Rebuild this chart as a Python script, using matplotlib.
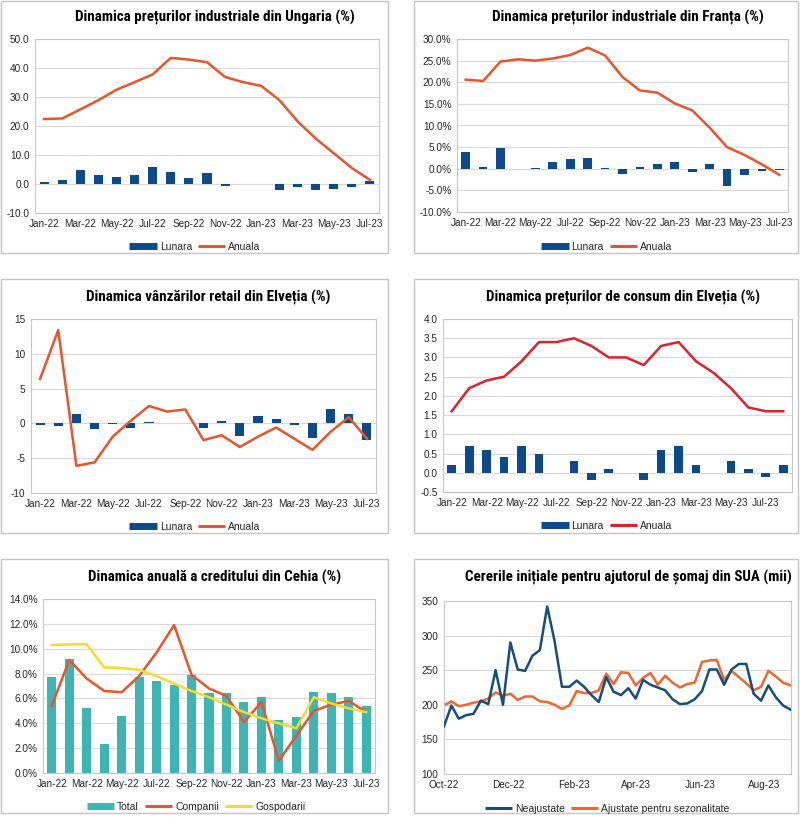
import matplotlib
matplotlib.use("Agg")
import matplotlib.pyplot as plt
from matplotlib.lines import Line2D
from matplotlib.patches import Rectangle
import matplotlib.dates as mdates
import numpy as np
import pandas as pd

plt.rcParams['font.family'] = ['Liberation Sans', 'DejaVu Sans']

# ---------------- data ----------------
months19 = ['Jan-22', 'Feb-22', 'Mar-22', 'Apr-22', 'May-22', 'Jun-22', 'Jul-22', 'Aug-22',
            'Sep-22', 'Oct-22', 'Nov-22', 'Dec-22', 'Jan-23', 'Feb-23', 'Mar-23', 'Apr-23',
            'May-23', 'Jun-23', 'Jul-23']
months20 = months19 + ['Aug-23']

hu_lunara = [0.7, 1.3, 4.8, 3.1, 2.5, 3.1, 5.7, 4.1, 1.9, 3.7, -0.6, 0.0, 0.0, -2.1, -1.1, -2.1, -1.6, -1.1, 1.0]
hu_anuala = [22.4, 22.6, 25.7, 28.9, 32.5, 35.1, 37.8, 43.5, 42.9, 42.0, 36.9, 35.1, 33.8, 28.9, 21.6, 15.7, 10.6, 5.5, 1.4]

fr_lunara = [3.8, 0.5, 4.9, 0.0, 0.1, 1.6, 2.2, 2.5, 0.2, -1.2, 0.5, 1.0, 1.6, -0.7, 1.1, -4.0, -1.4, -0.6, -0.3]
fr_anuala = [20.6, 20.3, 24.8, 25.3, 25.0, 25.5, 26.3, 28.0, 26.2, 21.2, 18.1, 17.6, 15.1, 13.5, 9.5, 5.0, 3.2, 1.0, -1.4]

chr_lunara = [-0.3, -0.4, 1.3, -0.8, -0.1, -0.6, 0.2, 0.0, 0.1, -0.7, 0.3, -1.8, 1.0, 0.6, -0.3, -2.1, 2.1, 1.4, -2.4]
chr_anuala = [6.4, 13.4, -6.1, -5.6, -1.9, 0.4, 2.5, 1.7, 2.0, -2.4, -1.7, -3.4, -1.9, -0.6, -2.2, -3.8, -1.2, 0.9, -2.2]

chc_lunara = [0.2, 0.7, 0.6, 0.4, 0.7, 0.5, 0.0, 0.3, -0.2, 0.1, 0.0, -0.2, 0.6, 0.7, 0.2, 0.0, 0.3, 0.1, -0.1, 0.2]
chc_anuala = [1.6, 2.2, 2.4, 2.5, 2.9, 3.4, 3.4, 3.5, 3.3, 3.0, 3.0, 2.8, 3.3, 3.4, 2.9, 2.6, 2.2, 1.7, 1.6, 1.6]

cz_total = [7.7, 9.2, 5.2, 2.3, 4.6, 7.7, 7.4, 7.1, 7.9, 6.4, 6.4, 5.7, 6.1, 4.3, 4.5, 6.5, 6.4, 6.1, 5.4]
cz_companii = [5.4, 9.1, 7.6, 6.6, 6.5, 7.8, 9.7, 11.9, 7.9, 6.8, 6.2, 4.1, 5.7, 1.0, 3.0, 5.0, 5.5, 5.8, 4.9]
cz_gospodarii = [10.3, 10.35, 10.35, 8.5, 8.45, 8.3, 7.8, 7.2, 6.6, 6.1, 5.5, 4.9, 4.4, 4.0, 3.6, 6.1, 5.6, 5.2, 4.9]

us_start = '2022-10-01'
us_neajustate = [169, 199, 180, 185, 187, 206, 201, 250, 200, 290, 251, 249, 271, 279, 342, 292,
                 226, 226, 235, 226, 214, 204, 240, 219, 214, 224, 209, 236, 229, 225, 221, 208,
                 201, 202, 208, 220, 251, 251, 229, 251, 259, 259, 216, 206, 228, 211, 199, 193]
us_ajustate = [199, 205, 198, 200, 203, 205, 209, 218, 213, 216, 207, 212, 212, 205, 204, 200,
               194, 199, 220, 217, 217, 221, 245, 230, 247, 246, 228, 239, 246, 229, 242, 232,
               225, 230, 232, 262, 264, 265, 236, 249, 240, 231, 221, 226, 249, 241, 232, 228]

# ---------------- colours ----------------
BLUE = '#0D4A8A'
ORANGE = '#E8542B'
RED = '#E0202A'
TEAL = '#3DB5B5'
YELLOW = '#F2DC2E'
NAVY = '#154D7E'
ORANGE2 = '#EE6630'
GRID = '#d9d9d9'
SPINE = '#c6c6c6'
TXT = '#262626'

W, H = 800, 817
fig = plt.figure(figsize=(W / 100, H / 100), dpi=100)
fig.patch.set_facecolor('white')
renderer = fig.canvas.get_renderer()

TITLE_FAMILY = ['Roboto Condensed', 'Open Sans Condensed', 'Liberation Sans Narrow',
                'DejaVu Sans Condensed', 'DejaVu Sans']


def px_axes(l, t, r, b):
    return fig.add_axes([l / W, 1 - b / H, (r - l) / W, (b - t) / H])


def panel_box(l, t, r, b):
    fig.patches.append(Rectangle((l / W, 1 - b / H), (r - l) / W, (b - t) / H,
                                 transform=fig.transFigure, fill=False,
                                 edgecolor='#c4c4c4', lw=1.0, zorder=0))


def title(x, y, s, target_w):
    t = fig.text(x / W, 1 - y / H, s, ha='center', va='center', fontsize=12.5,
                 fontweight='bold', family=TITLE_FAMILY, fontstretch='condensed',
                 color='black')
    w = t.get_window_extent(renderer=renderer).width
    if w > target_w:
        t.set_fontsize(12.5 * target_w / w)
    return t


def style(ax, yticks, fmt):
    ax.set_facecolor('white')
    for sp in ax.spines.values():
        sp.set_color(SPINE)
        sp.set_linewidth(0.8)
    ax.set_yticks(yticks)
    ax.set_ylim(yticks[0], yticks[-1])
    ax.set_yticklabels([fmt.format(v) for v in yticks])
    ax.yaxis.grid(True, color=GRID, lw=0.8)
    ax.set_axisbelow(True)
    ax.tick_params(axis='both', length=0, labelsize=7.2, colors=TXT, pad=4)


def cat_axis(ax, labels):
    n = len(labels)
    ax.set_xlim(-0.5, n - 0.5)
    idx = list(range(0, n, 2))
    ax.set_xticks(idx)
    ax.set_xticklabels([labels[i] for i in idx])


def legend(x, y, handles, labels):
    fig.legend(handles, labels, loc='center', bbox_to_anchor=(x / W, 1 - y / H),
               ncol=len(handles), frameon=False, fontsize=7.5, handlelength=2.6,
               handletextpad=0.3, columnspacing=0.6, labelcolor=TXT)


def bar_handle(c):
    return Line2D([0], [0], color=c, lw=5, solid_capstyle='butt')


def line_handle(c):
    return Line2D([0], [0], color=c, lw=2.2, solid_capstyle='butt')


# panel boxes
boxes = [(1, 1, 388, 253), (414, 1, 798, 253), (1, 279, 388, 533),
         (414, 279, 798, 533), (1, 559, 388, 813), (414, 559, 798, 813)]
for bx in boxes:
    panel_box(*bx)

# ---------- Panel 1: Ungaria ----------
ax = px_axes(35, 39, 379, 213)
x = np.arange(len(months19))
ax.bar(x, hu_lunara, width=0.5, color=BLUE, zorder=2)
ax.plot(x, hu_anuala, color=ORANGE, lw=1.8, zorder=3)
style(ax, [-10, 0, 10, 20, 30, 40, 50], '{:.1f}')
cat_axis(ax, months19)
title(215, 17, 'Dinamica prețurilor industriale din Ungaria (%)', 280)
legend(195, 247, [bar_handle(BLUE), line_handle(ORANGE)], ['Lunara', 'Anuala'])

# ---------- Panel 2: Franta ----------
ax = px_axes(457, 39, 788, 212)
ax.bar(x, fr_lunara, width=0.5, color=BLUE, zorder=2)
ax.plot(x, fr_anuala, color=ORANGE, lw=1.8, zorder=3)
style(ax, [-10, -5, 0, 5, 10, 15, 20, 25, 30], '{:.1f}%')
cat_axis(ax, months19)
title(628, 17, 'Dinamica prețurilor industriale din Franța (%)', 272)
legend(607, 247, [bar_handle(BLUE), line_handle(ORANGE)], ['Lunara', 'Anuala'])

# ---------- Panel 3: Elvetia retail ----------
ax = px_axes(31, 319, 376, 493)
ax.bar(x, chr_lunara, width=0.5, color=BLUE, zorder=2)
ax.plot(x, chr_anuala, color=ORANGE, lw=1.8, zorder=3)
style(ax, [-10, -5, 0, 5, 10, 15], '{:.0f}')
cat_axis(ax, months19)
title(208, 297, 'Dinamica vânzărilor retail din Elveția (%)', 246)
legend(195, 527, [bar_handle(BLUE), line_handle(ORANGE)], ['Lunara', 'Anuala'])

# ---------- Panel 4: Elvetia CPI ----------
ax = px_axes(443, 319, 792, 492)
x20 = np.arange(len(months20))
ax.bar(x20, chc_lunara, width=0.5, color=BLUE, zorder=2)
ax.plot(x20, chc_anuala, color=RED, lw=1.8, zorder=3)
style(ax, [-0.5, 0, 0.5, 1.0, 1.5, 2.0, 2.5, 3.0, 3.5, 4.0], '{:.1f}')
cat_axis(ax, months20)
title(623, 297, 'Dinamica prețurilor de consum din Elveția (%)', 274)
legend(607, 526, [bar_handle(BLUE), line_handle(RED)], ['Lunara', 'Anuala'])

# ---------- Panel 5: Cehia ----------
ax = px_axes(43, 599, 375, 773)
ax.bar(x, cz_total, width=0.52, color=TEAL, zorder=2)
ax.plot(x, cz_companii, color=ORANGE, lw=1.8, zorder=3)
ax.plot(x, cz_gospodarii, color=YELLOW, lw=1.8, zorder=4)
style(ax, [0, 2, 4, 6, 8, 10, 12, 14], '{:.1f}%')
cat_axis(ax, months19)
title(215, 577, 'Dinamica anuală a creditului din Cehia (%)', 254)
legend(196, 807, [bar_handle(TEAL), line_handle(ORANGE), line_handle(YELLOW)],
       ['Total', 'Companii', 'Gospodarii'])

# ---------- Panel 6: SUA ----------
ax = px_axes(444, 601, 790.5, 774)
dates = pd.date_range(us_start, periods=len(us_neajustate), freq='7D')
ax.plot(dates, us_neajustate, color=NAVY, lw=1.8, zorder=3)
ax.plot(dates, us_ajustate, color=ORANGE2, lw=1.8, zorder=2)
style(ax, [100, 150, 200, 250, 300, 350], '{:.0f}')
ax.set_xlim(dates[0], dates[-1])
ax.xaxis.set_major_locator(mdates.MonthLocator(bymonth=[2, 4, 6, 8, 10, 12]))
ax.xaxis.set_major_formatter(mdates.DateFormatter('%b-%y'))
title(628, 577, 'Cererile inițiale pentru ajutorul de șomaj din SUA (mii)', 325)
legend(607, 809, [line_handle(NAVY), line_handle(ORANGE2)],
       ['Neajustate', 'Ajustate pentru sezonalitate'])

fig.savefig('out.png', dpi=100, facecolor='white')
